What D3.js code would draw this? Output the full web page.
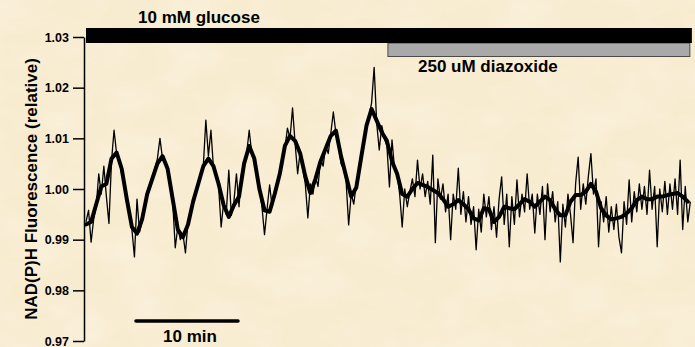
<!DOCTYPE html>
<html>
<head>
<meta charset="utf-8">
<script src="https://cdn.jsdelivr.net/npm/d3@7"></script>
<style>
  html, body { margin: 0; padding: 0; background: #f9efd6; }
  svg { display: block; }
  text { font-family: "Liberation Sans", Arial, sans-serif; font-weight: bold; fill: #000; }
</style>
</head>
<body>
<svg id="chart" width="695" height="347"></svg>
<script>
// Recording sampled every 0.25 min (raw NAD(P)H signal)
const rawStep = 0.25;
const rawTrace = [
  0.9935, 0.9958, 0.9895, 0.9940, 0.9965, 1.0030, 0.9990, 1.0045, 0.9985, 0.9932,
  1.0055, 1.0116, 1.0070, 1.0058, 1.0030, 1.0005, 0.9975, 0.9950, 0.9920, 0.9866,
  0.9980, 0.9915, 0.9935, 0.9965, 0.9995, 1.0010, 1.0025, 1.0040, 1.0060, 1.0100,
  1.0060, 1.0050, 1.0035, 1.0010, 0.9975, 0.9884, 0.9925, 0.9900, 0.9912, 0.9874,
  0.9935, 0.9950, 0.9980, 0.9990, 1.0015, 1.0030, 1.0045, 1.0136, 1.0065, 1.0116,
  1.0040, 1.0030, 1.0005, 0.9925, 0.9975, 0.9950, 1.0037, 0.9948, 0.9975, 1.0030,
  0.9965, 1.0030, 1.0045, 1.0070, 1.0116, 1.0070, 1.0065, 1.0035, 1.0000, 0.9965,
  0.9910, 0.9960, 1.0008, 0.9965, 0.9985, 1.0010, 1.0030, 1.0060, 1.0080, 1.0120,
  1.0100, 1.0160, 1.0090, 1.0030, 1.0075, 1.0040, 1.0010, 0.9943, 1.0010, 0.9990,
  1.0025, 1.0005, 1.0060, 1.0045, 1.0085, 1.0070, 1.0110, 1.0152, 1.0110, 1.0085,
  1.0050, 1.0040, 1.0015, 0.9929, 0.9990, 0.9970, 1.0010, 1.0035, 1.0065, 1.0100,
  1.0125, 1.0145, 1.0170, 1.0240, 1.0130, 1.0077, 1.0125, 1.0100, 1.0085, 1.0004,
  1.0097, 1.0040, 1.0030, 0.9990, 0.9925, 1.0000, 0.9965, 0.9995, 1.0020, 0.9985,
  1.0057, 1.0000, 1.0030, 0.9985, 1.0015, 0.9970, 1.0067, 0.9894, 1.0020, 0.9980,
  1.0010, 0.9955, 0.9990, 0.9900, 0.9990, 0.9960, 1.0041, 0.9950, 0.9995, 0.9935,
  0.9985, 0.9930, 0.9965, 0.9880, 0.9960, 0.9915, 0.9990, 0.9945, 0.9985, 0.9920,
  0.9965, 0.9905, 0.9980, 1.0024, 0.9930, 0.9990, 0.9886, 0.9985, 0.9930, 1.0018,
  0.9945, 0.9990, 0.9955, 1.0030, 0.9960, 0.9990, 0.9913, 0.9990, 0.9950, 1.0005,
  0.9900, 1.0010, 0.9955, 0.9995, 0.9935, 0.9975, 0.9856, 0.9970, 0.9925, 0.9990,
  0.9950, 0.9894, 1.0010, 1.0063, 0.9960, 1.0010, 0.9970, 1.0025, 1.0070, 0.9990,
  1.0020, 0.9886, 0.9975, 0.9935, 0.9985, 0.9915, 0.9965, 0.9920, 0.9970, 0.9905,
  0.9874, 0.9975, 0.9930, 1.0018, 0.9935, 0.9995, 0.9955, 1.0010, 0.9960, 1.0005,
  0.9950, 1.0037, 0.9960, 1.0005, 0.9886, 1.0000, 0.9955, 1.0015, 0.9950, 1.0010,
  0.9960, 1.0020, 0.9950, 1.0057, 0.9920, 1.0005, 0.9935, 0.9975
];

// Smoothed trace sampled every 0.5 min
const smoothStep = 0.5;
const smoothTrace = [
  0.9930, 0.9935, 0.9970, 1.0005, 1.0010, 1.0060, 1.0072, 1.0040, 0.9980, 0.9925,
  0.9912, 0.9940, 0.9990, 1.0020, 1.0050, 1.0065, 1.0040, 0.9980, 0.9920, 0.9905,
  0.9930, 0.9975, 1.0010, 1.0045, 1.0060, 1.0045, 1.0010, 0.9968, 0.9945, 0.9968,
  0.9985, 1.0050, 1.0085, 1.0060, 1.0000, 0.9958, 0.9955, 0.9990, 1.0030, 1.0085,
  1.0105, 1.0095, 1.0070, 1.0025, 0.9992, 1.0020, 1.0055, 1.0080, 1.0105, 1.0115,
  1.0065, 1.0025, 0.9985, 1.0003, 1.0065, 1.0125, 1.0158, 1.0135, 1.0112, 1.0095,
  1.0055, 1.0030, 0.9990, 0.9985, 1.0000, 1.0012, 1.0008, 1.0004, 0.9998, 0.9992,
  0.9980, 0.9965, 0.9970, 0.9978, 0.9970, 0.9960, 0.9942, 0.9938, 0.9962, 0.9960,
  0.9935, 0.9945, 0.9965, 0.9962, 0.9960, 0.9970, 0.9980, 0.9975, 0.9965, 0.9975,
  0.9985, 0.9978, 0.9960, 0.9948, 0.9948, 0.9975, 0.9988, 0.9988, 0.9995, 1.0010,
  0.9995, 0.9962, 0.9948, 0.9940, 0.9942, 0.9945, 0.9952, 0.9962, 0.9978, 0.9985,
  0.9980, 0.9980, 0.9985, 0.9985, 0.9988, 0.9990, 0.9992, 0.9985, 0.9975
];

// Y axis ticks
const yTicks = [0.97, 0.98, 0.99, 1.00, 1.01, 1.02, 1.03];
const yDomain = [0.97, 1.03];

// Treatment periods (minutes)
const treatmentLabels = ["10 mM glucose", "250 uM diazoxide"];
const treatmentStart = [0, 29.6];
const treatmentEnd = [59.4, 59.2];

// Time scale bar (minutes)
const scaleBarStart = 4.9;
const scaleBarLength = 10;
const scaleBarLabel = "10 min";

const yTitle = "NAD(P)H Fluorescence (relative)";

const svg = d3.select("#chart");
const W = 695, H = 347;

// Paper-like background with faint mottling
const defs = svg.append("defs");
const f = defs.append("filter").attr("id", "paper")
  .attr("x", 0).attr("y", 0).attr("width", "100%").attr("height", "100%");
f.append("feTurbulence").attr("type", "fractalNoise")
  .attr("baseFrequency", "0.018 0.03").attr("numOctaves", 3).attr("seed", 4).attr("result", "n");
f.append("feColorMatrix").attr("in", "n").attr("type", "matrix")
  .attr("values", "0 0 0 0 1  0 0 0 0 1  0 0 0 0 1  0.9 0 0 0 -0.35")
  .attr("result", "m");
f.append("feComposite").attr("in", "m").attr("in2", "SourceGraphic").attr("operator", "in");
svg.append("rect").attr("width", W).attr("height", H).attr("fill", "#f8ecd0");
svg.append("rect").attr("width", W).attr("height", H).attr("fill", "#fff").attr("opacity", 0.55)
  .attr("filter", "url(#paper)");

const x = d3.scaleLinear().domain([0, 60]).range([86, 698]);
const y = d3.scaleLinear().domain(yDomain).range([341, 37]);

// Y axis
const yAxis = d3.axisLeft(y).tickValues(yTicks).tickFormat(d3.format(".2f"))
  .tickSizeInner(11).tickSizeOuter(0).tickPadding(4);
const ga = svg.append("g").attr("transform", "translate(84,0)").call(yAxis);
ga.select(".domain").attr("stroke", "#000").attr("stroke-width", 1.5);
ga.selectAll(".tick line").attr("stroke", "#000").attr("stroke-width", 1.5);
ga.selectAll(".tick text").style("font-family", "'Liberation Sans', Arial, sans-serif")
  .style("font-weight", "bold").style("font-size", "12.5px").attr("fill", "#000");

// Axis title
svg.append("text")
  .attr("transform", "translate(37,189) rotate(-90)")
  .attr("text-anchor", "middle")
  .style("font-size", "17px")
  .text(yTitle);

// Treatment bars
svg.append("rect")
  .attr("x", x(treatmentStart[1])).attr("y", 43)
  .attr("width", x(treatmentEnd[1]) - x(treatmentStart[1])).attr("height", 13.5)
  .attr("fill", "#a9a9a9").attr("stroke", "#4a4a4a").attr("stroke-width", 1);
svg.append("rect")
  .attr("x", x(treatmentStart[0])).attr("y", 28)
  .attr("width", x(treatmentEnd[0]) - x(treatmentStart[0])).attr("height", 15)
  .attr("fill", "#000");
svg.append("text").attr("x", 138).attr("y", 23).style("font-size", "17px").text(treatmentLabels[0]);
svg.append("text").attr("x", 418).attr("y", 72).style("font-size", "17px").text(treatmentLabels[1]);

// Traces
const rawLine = d3.line().x((d, i) => x(i * rawStep)).y(d => y(d));
const smoothLine = d3.line().x((d, i) => x(i * smoothStep)).y(d => y(d));

svg.append("path").datum(rawTrace).attr("d", rawLine)
  .attr("fill", "none").attr("stroke", "#000").attr("stroke-width", 1.3).attr("stroke-linejoin", "round");
svg.append("path").datum(smoothTrace).attr("d", smoothLine)
  .attr("fill", "none").attr("stroke", "#000").attr("stroke-width", 4)
  .attr("stroke-linejoin", "round").attr("stroke-linecap", "round");

// Scale bar
svg.append("line")
  .attr("x1", x(scaleBarStart)).attr("x2", x(scaleBarStart + scaleBarLength))
  .attr("y1", 321).attr("y2", 321)
  .attr("stroke", "#000").attr("stroke-width", 3.5).attr("stroke-linecap", "round");
svg.append("text")
  .attr("x", (x(scaleBarStart) + x(scaleBarStart + scaleBarLength)) / 2 + 3)
  .attr("y", 342).attr("text-anchor", "middle").style("font-size", "17px")
  .text(scaleBarLabel);
</script>
</body>
</html>
